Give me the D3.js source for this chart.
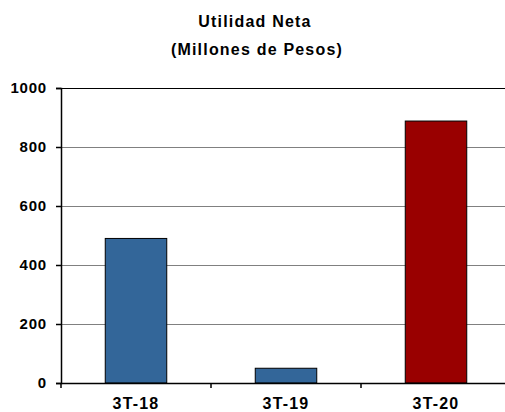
<!DOCTYPE html>
<html>
<head>
<meta charset="utf-8">
<script src="https://cdn.jsdelivr.net/npm/d3@7"></script>
<style>
  body { margin: 0; background: #fff; }
  svg { display: block; font-family: "Liberation Sans", Arial, sans-serif; }
</style>
</head>
<body>
<svg id="viz" width="505" height="412"></svg>
<script>
// chart data
const categories = ["3T-18", "3T-19", "3T-20"];
const values = [490, 50, 888];
const barColors = ["#336699", "#336699", "#990000"];
const yTicks = [0, 200, 400, 600, 800, 1000];
const titleLines = ["Utilidad Neta", "(Millones de Pesos)"];

const svg = d3.select("#viz");
// plot box (named so it doesn't clash with window.top)
const plotL = 61, plotR = 511, plotT = 88, plotB = 383;

const x = d3.scaleBand().domain(categories).range([plotL, plotR]).paddingInner(0).paddingOuter(0);
const y = d3.scaleLinear().domain([0, 1000]).range([plotB, plotT]);

// titles
svg.selectAll("text.title")
  .data(titleLines)
  .enter()
  .append("text")
  .attr("class", "title")
  .attr("x", (d, i) => 255 + i * 2)
  .attr("y", (d, i) => 27 + i * 28)
  .attr("text-anchor", "middle")
  .attr("font-size", "16px")
  .attr("font-weight", "bold")
  .attr("letter-spacing", "1.2px")
  .text((d) => d);

// gridlines
svg.append("g")
  .selectAll("line.grid")
  .data(yTicks.filter((t) => t > 0))
  .enter()
  .append("line")
  .attr("x1", plotL)
  .attr("x2", plotR)
  .attr("y1", (d) => y(d) + 0.5)
  .attr("y2", (d) => y(d) + 0.5)
  .attr("stroke", (d) => (d === 1000 ? "#000" : "#808080"))
  .attr("stroke-width", 1.2);

// bars, 61px of the 150px band
const barW = x.bandwidth() * 0.41;
svg.append("g")
  .selectAll("rect.bar")
  .data(values)
  .enter()
  .append("rect")
  .attr("class", "bar")
  .attr("x", (d, i) => x(categories[i]) + (x.bandwidth() - barW) / 2)
  .attr("y", (d) => y(d))
  .attr("width", barW)
  .attr("height", (d) => y(0) - y(d))
  .attr("fill", (d, i) => barColors[i])
  .attr("stroke", "#000")
  .attr("stroke-width", 1);

// y axis
const yAxis = svg.append("g")
  .attr("transform", `translate(${plotL},0)`)
  .call(d3.axisLeft(y).tickValues(yTicks).tickSize(5).tickPadding(9).tickFormat(d3.format("d")));
yAxis.selectAll("path, line").attr("stroke", "#000").attr("stroke-width", 1.5);
yAxis.selectAll("text")
  .attr("font-family", "Liberation Sans, Arial, sans-serif")
  .attr("font-size", "15px")
  .attr("font-weight", "bold")
  .attr("letter-spacing", "0.8px")
  .attr("fill", "#000");

// x axis
const xAxis = svg.append("g")
  .attr("transform", `translate(0,${plotB})`)
  .call(d3.axisBottom(x).tickSize(0).tickPadding(15));
xAxis.select("path").attr("stroke", "#000").attr("stroke-width", 1.5);
xAxis.selectAll("text")
  .attr("font-family", "Liberation Sans, Arial, sans-serif")
  .attr("font-size", "16px")
  .attr("font-weight", "bold")
  .attr("letter-spacing", "1.2px")
  .attr("fill", "#000");

// category separators below the axis
svg.append("g")
  .selectAll("line.sep")
  .data(categories)
  .enter()
  .append("line")
  .attr("x1", (d) => x(d))
  .attr("x2", (d) => x(d))
  .attr("y1", plotB)
  .attr("y2", plotB + 5)
  .attr("stroke", "#000")
  .attr("stroke-width", 1.5);
</script>
</body>
</html>
